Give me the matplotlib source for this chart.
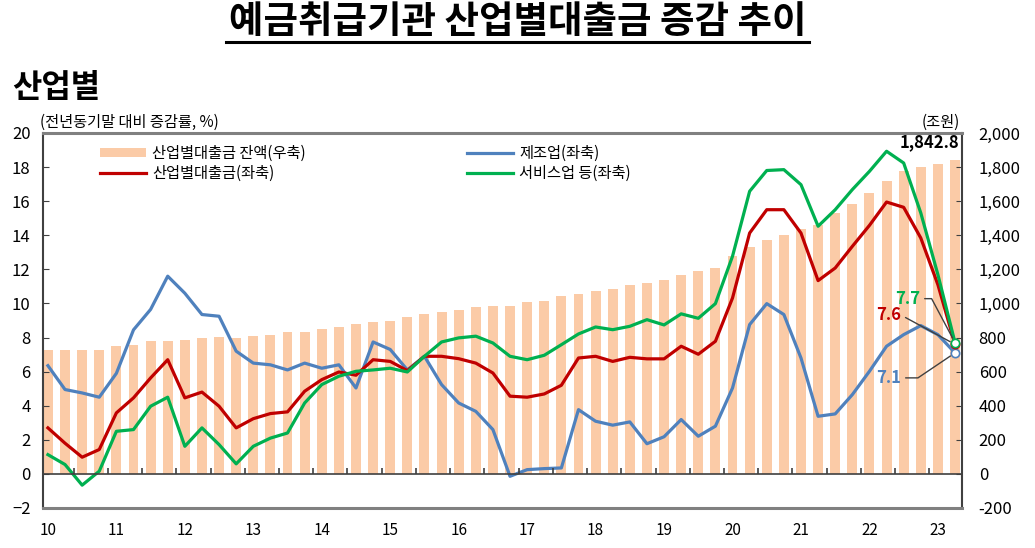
import numpy as np
import matplotlib
matplotlib.use('Agg')
import matplotlib.pyplot as plt
from matplotlib.lines import Line2D

plt.rcParams['font.family'] = ['Noto Sans CJK KR', 'DejaVu Sans']

# 분기별 데이터 (2010.1Q ~ 2023.2Q)
years = ['10', '11', '12', '13', '14', '15', '16', '17', '18', '19', '20', '21', '22', '23']

# 산업별대출금 잔액 (조원, 우축)
balance = [729, 729, 729, 729, 749, 758, 778, 778, 788, 798, 802, 798, 808, 817, 833, 833,
           850, 862, 880, 892, 899, 919, 938, 948, 964, 977, 987, 987, 1007, 1016, 1042, 1056,
           1071, 1085, 1110, 1121, 1140, 1169, 1189, 1208, 1277, 1330, 1371, 1400, 1439, 1459,
           1530, 1583, 1648, 1716, 1775, 1799, 1818, 1842.8]

# 제조업 (%, 좌축)
manufacturing = [6.35, 4.95, 4.75, 4.5, 5.9, 8.45, 9.65, 11.6, 10.6, 9.35, 9.25, 7.2, 6.5, 6.4,
                 6.1, 6.5, 6.2, 6.4, 5.04, 7.74, 7.3, 6.1, 6.9, 5.24, 4.16, 3.67, 2.6, -0.14,
                 0.25, 0.31, 0.35, 3.77, 3.09, 2.86, 3.05, 1.77, 2.18, 3.19, 2.21, 2.8, 5.04,
                 8.76, 9.99, 9.35, 6.8, 3.38, 3.52, 4.65, 6.02, 7.49, 8.17, 8.7, 8.17, 7.1]

# 산업별대출금 (%, 좌축)
total = [2.7, 1.8, 0.98, 1.43, 3.58, 4.46, 5.63, 6.7, 4.46, 4.8, 3.97, 2.7, 3.24, 3.54, 3.64,
         4.85, 5.53, 5.98, 5.79, 6.7, 6.6, 6.06, 6.9, 6.9, 6.76, 6.5, 5.92, 4.56, 4.5, 4.69,
         5.2, 6.8, 6.9, 6.6, 6.84, 6.75, 6.75, 7.49, 7.02, 7.78, 10.32, 14.13, 15.5, 15.5,
         14.13, 11.34, 12.08, 13.35, 14.58, 15.95, 15.64, 13.84, 11.1, 7.6]

# 서비스업 등 (%, 좌축)
services = [1.13, 0.55, -0.66, 0.16, 2.5, 2.6, 3.97, 4.5, 1.62, 2.7, 1.72, 0.59, 1.62, 2.1,
            2.4, 4.16, 5.24, 5.73, 6.02, 6.1, 6.2, 5.98, 6.9, 7.74, 7.98, 8.08, 7.68, 6.9, 6.7,
            6.96, 7.58, 8.21, 8.62, 8.46, 8.66, 9.05, 8.74, 9.39, 9.13, 9.99, 12.77, 16.58,
            17.8, 17.85, 16.97, 14.53, 15.5, 16.68, 17.75, 18.93, 18.24, 15.31, 11.69, 7.7]

x = np.arange(len(balance))
last = len(x) - 1

fig = plt.figure(figsize=(10.35, 5.48), dpi=100)
ax = fig.add_axes([0.0415, 0.073, 0.888, 0.6843])
ax2 = ax.twinx()

# 잔액 막대 (우축)
bars = ax2.bar(x, balance, width=0.58, color='#FBCBA7', label='산업별대출금 잔액(우축)')
ax.set_zorder(ax2.get_zorder() + 1)
ax.patch.set_visible(False)

# 증감률 선 (좌축)
mk = dict(marker='o', markevery=[last], mfc='white', ms=6, mew=1.2)
l_manu, = ax.plot(x, manufacturing, color='#4F81BD', lw=2.3, label='제조업(좌축)', **mk)
l_total, = ax.plot(x, total, color='#C00000', lw=2.3, label='산업별대출금(좌축)', **mk)
l_serv, = ax.plot(x, services, color='#00B050', lw=2.3, label='서비스업 등(좌축)', **mk)

ax.set_xlim(-0.29, last + 0.41)
ax.set_ylim(-2, 20)
ax.set_yticks(range(-2, 21, 2))
ax2.set_ylim(-200, 2000)
ax2.set_yticks(range(-200, 2001, 200))
ax2.set_yticklabels([f'{v:,}' for v in range(-200, 2001, 200)])

ax.set_xticks(x[::4])
ax.set_xticklabels(years)
ax.tick_params(axis='x', length=0, pad=10, labelsize=11)
ax.tick_params(axis='y', direction='in', length=4, pad=9, labelsize=12, color='#404040')
ax2.tick_params(axis='y', direction='in', length=4, pad=12, labelsize=12, color='#404040')

# 0 기준선과 반기 눈금
ax.axhline(0, color='#404040', lw=1.2)
ax.vlines(np.arange(1.5, last + 1, 2), 0, 0.35, color='#404040', lw=1.2)

for s in ['top', 'bottom']:
    ax.spines[s].set_color('#808080')
    ax.spines[s].set_linewidth(2.2)
for s in ['left', 'right']:
    ax.spines[s].set_color('#404040')
    ax.spines[s].set_linewidth(1.5)
for s in ax2.spines.values():
    s.set_visible(False)

leg = ax.legend(handles=[bars, l_total, l_manu, l_serv], ncol=2, loc='upper left',
                bbox_to_anchor=(0.062, 0.969), frameon=False, fontsize=11,
                handlelength=3, handleheight=0.5, labelspacing=0.2, columnspacing=10.6,
                handletextpad=0.4, borderaxespad=0, borderpad=0)
for h in leg.legend_handles[1:]:
    h.set_marker('')

# 끝값 표시
ax2.annotate(f'{balance[-1]:,.1f}', xy=(x[-1], balance[-1]), xytext=(4, 9),
             textcoords='offset pixels', ha='right', va='bottom', fontsize=12, fontweight='bold')

lead = dict(arrowstyle='-', color='#404040', lw=1, shrinkA=1, shrinkB=4, relpos=(1, 0.5))
ax.annotate(f'{services[-1]:.1f}', xy=(x[-1], services[-1]), xytext=(-47, 44),
            textcoords='offset pixels', ha='center', va='center', color='#00B050',
            fontsize=12, fontweight='bold',
            arrowprops=dict(connectionstyle='angle,angleA=0,angleB=-62,rad=0', **lead))
ax.annotate(f'{total[-1]:.1f}', xy=(x[-1], total[-1]), xytext=(-66, 29),
            textcoords='offset pixels', ha='center', va='center', color='#C00000',
            fontsize=12, fontweight='bold',
            arrowprops=dict(connectionstyle='arc3', **lead))
ax.annotate(f'{manufacturing[-1]:.1f}', xy=(x[-1], manufacturing[-1]), xytext=(-66, -25),
            textcoords='offset pixels', ha='center', va='center', color='#4F81BD',
            fontsize=12, fontweight='bold',
            arrowprops=dict(connectionstyle='angle,angleA=0,angleB=34,rad=0', **lead))

# 제목 및 보조 텍스트
title = fig.text(0.5, 1 - 22 / 548, '예금취급기관 산업별대출금 증감 추이', ha='center', va='center',
                 fontsize=27, fontweight='bold')
fig.text(12 / 1035, 1 - 88 / 548, '산업별', ha='left', va='center', fontsize=23, fontweight='bold')
fig.text(40 / 1035, 1 - 122 / 548, '(전년동기말 대비 증감률, %)', ha='left', va='center', fontsize=11)
fig.text(960 / 1035, 1 - 122 / 548, '(조원)', ha='right', va='center', fontsize=11)

# 제목 밑줄
bb = title.get_window_extent(renderer=fig.canvas.get_renderer())
W, H = fig.bbox.width, fig.bbox.height
fig.add_artist(Line2D([bb.x0 / W - 0.003, bb.x1 / W + 0.003], [1 - 42 / 548] * 2,
                      transform=fig.transFigure, color='black', lw=2.2))

fig.savefig('out.png', dpi=100)
